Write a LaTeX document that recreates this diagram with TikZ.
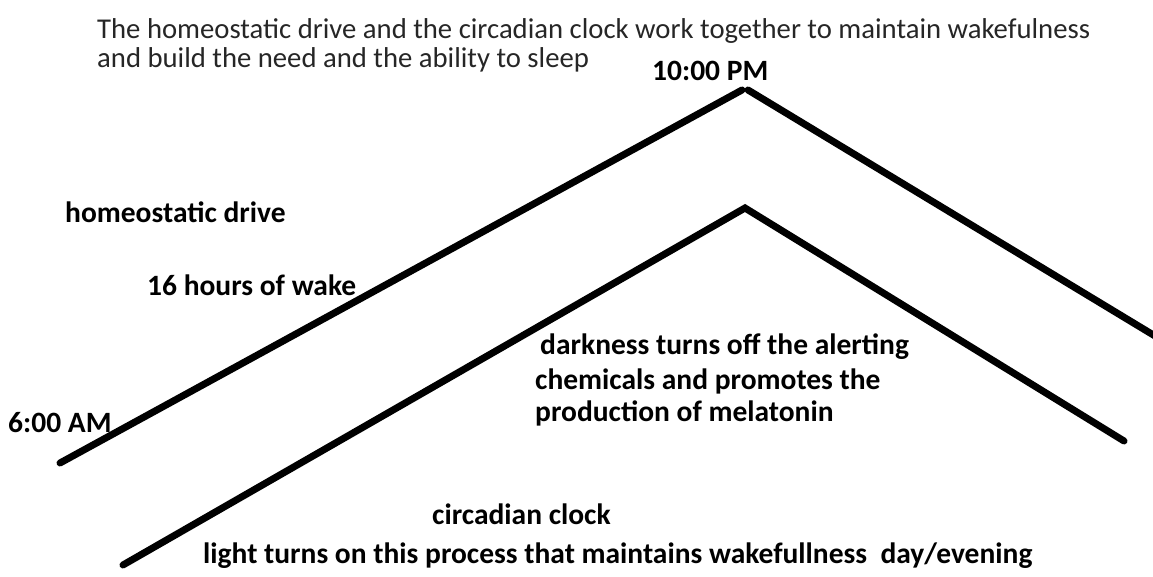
\documentclass[tikz,border=0pt]{standalone}
\usepackage{fontspec}
\setmainfont{Carlito}
\begin{document}
\begin{tikzpicture}[x=1pt,y=-1pt,
  lbl/.style={anchor=base west,inner sep=0pt,font=\fontsize{29.5}{34}\selectfont\bfseries},
  ttl/.style={anchor=base west,inner sep=0pt,text=black!85,font=\fontsize{28.7}{33}\selectfont},
  curve/.style={line width=7pt,line cap=round,line join=miter}]
\useasboundingbox[fill=white] (0,0) rectangle (1153,577);
% title
\node[ttl] (t1) at (97,39) {The homeostatic drive and the circadian clock work together to maintain wakefulness};
\node[ttl] (t2) at (97,68) {and build the need and the ability to sleep};
% homeostatic curve
\coordinate (h0) at (60,463);
\coordinate (h1) at (742,90);
\coordinate (h2) at (748,90);
\coordinate (h3) at (1160,339);
\draw[curve] (h0) -- (h1);
\draw[curve] (h2) -- (h3);
% circadian curve
\coordinate (c0) at (123,565);
\coordinate (c1) at (745,208);
\coordinate (c2) at (1124,441);
\draw[curve] (c0) -- (c1) -- (c2);
% labels
\node[lbl] (pm) at (652,81) {10:00 PM};
\node[lbl] (hd) at (65,223) {homeostatic drive};
\node[lbl] (hw) at (147,295) {16 hours of wake};
\node[lbl] (am) at (8,432) {6:00 AM};
\node[lbl] (d1) at (540,354) {darkness turns off the alerting};
\node[lbl] (d2) at (535,389) {chemicals and promotes the};
\node[lbl] (d3) at (535,421) {production of melatonin};
\node[lbl] (cc) at (432,524) {circadian clock};
\node[lbl] (lt) at (203,563) {light turns on this process that maintains wakefullness\ \ day/evening};
\end{tikzpicture}
\end{document}
